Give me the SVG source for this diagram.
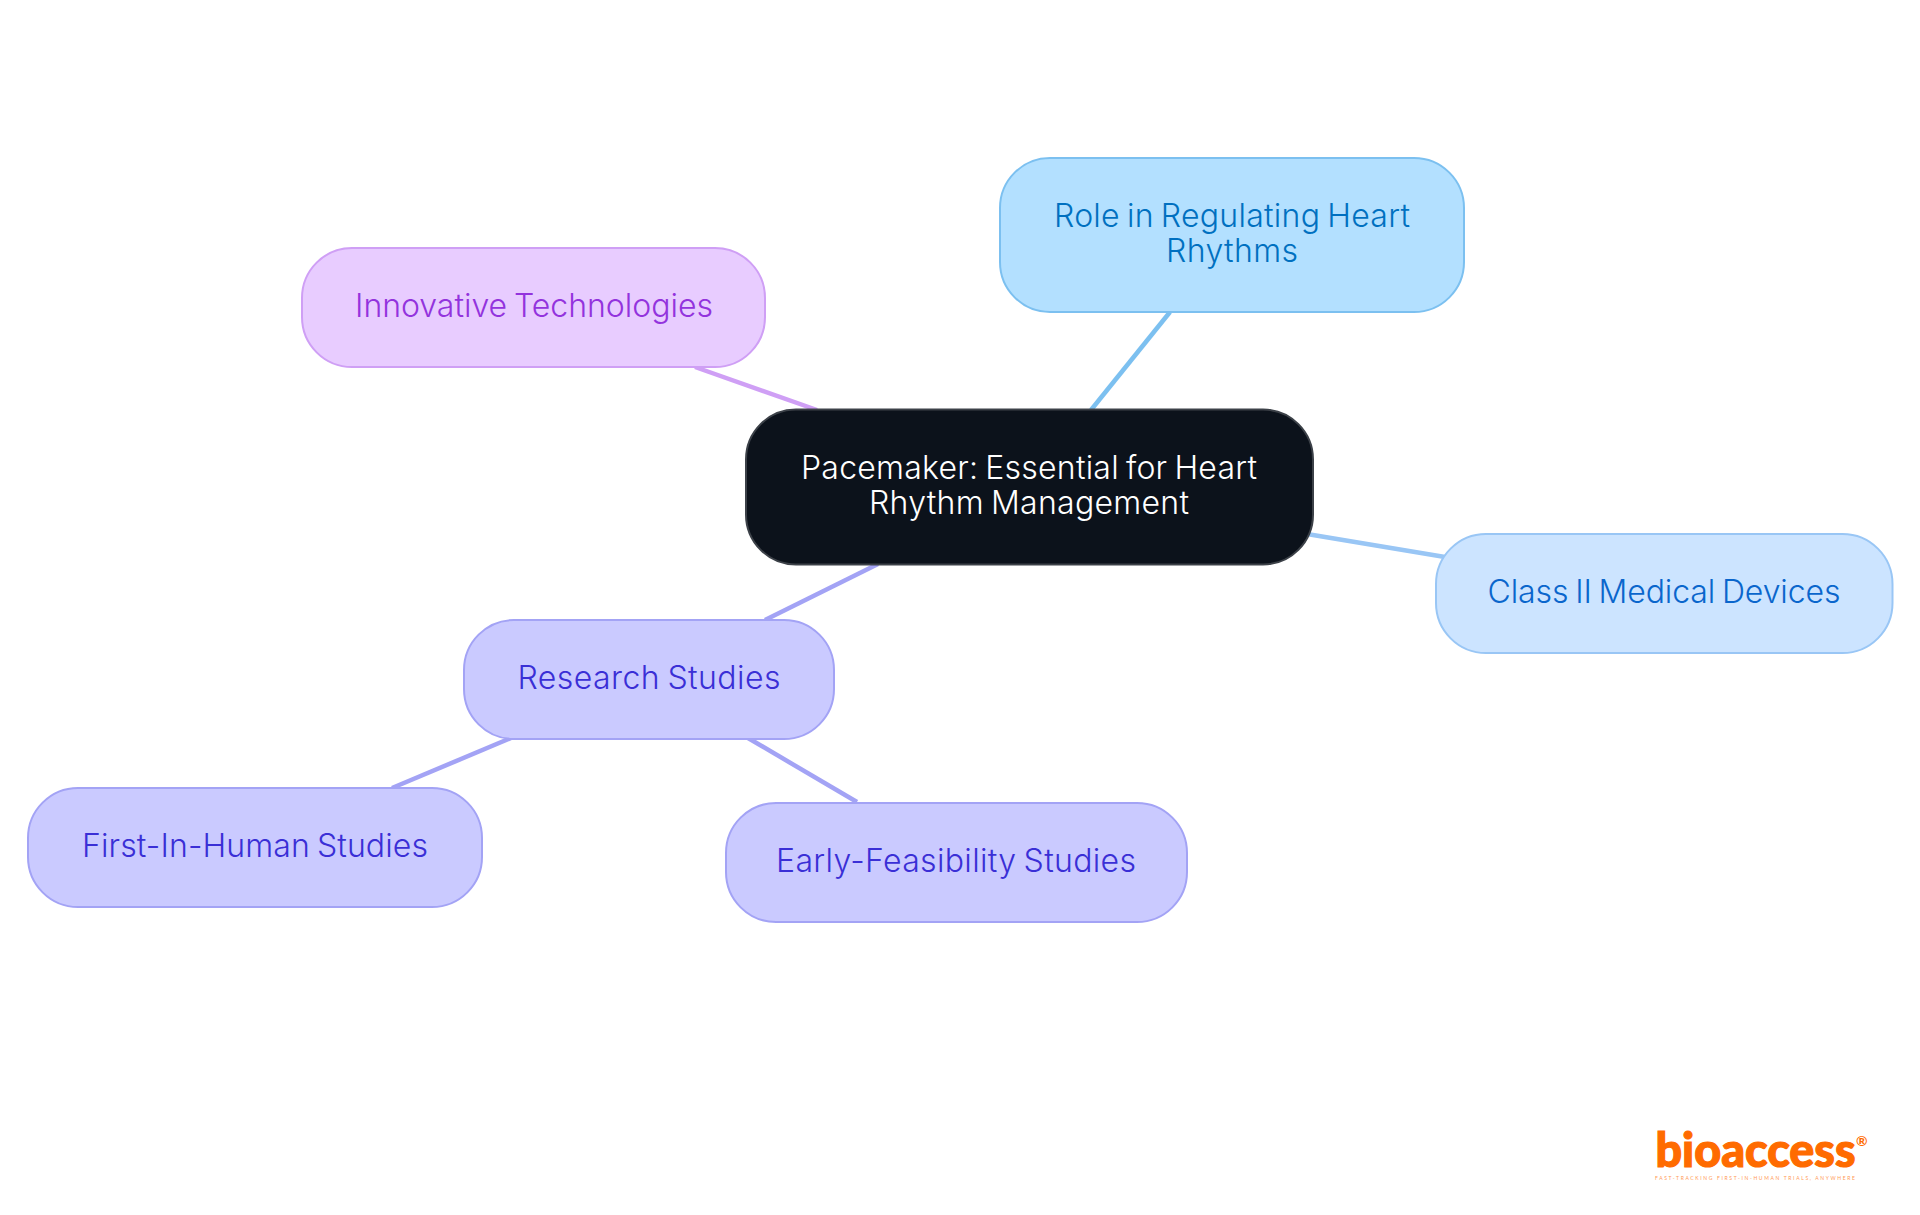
<svg xmlns="http://www.w3.org/2000/svg" width="1920" height="1215" viewBox="0 0 1920 1215">
<style>
text{font-family:"Inter","Noto Sans","Liberation Sans",sans-serif;font-size:32px;font-weight:300;text-anchor:middle;word-spacing:-2.2px}
.edge{fill:none;stroke-width:4.5}
.n{stroke-width:2}
.root rect{fill:#0c121b;stroke:#3c4148}.root text{fill:#fff}
.a rect{fill:#b3e0ff;stroke:#7cc0f0}.a text{fill:#0070c0}
.b rect{fill:#cce4ff;stroke:#99c6f5}.b text{fill:#0a66cc}
.c rect{fill:#e8ccff;stroke:#cf9ff5}.c text{fill:#9333dd}
.d rect{fill:#cacaff;stroke:#a3a3f5}.d text{fill:#3a2fd6}
.logo text{font-family:"Lato","Inter",sans-serif;text-anchor:start;word-spacing:0}
</style>
<rect width="1920" height="1215" fill="#fff"/>
<g id="connectors">
<path class="edge" stroke="#cf9ff5" d="M695 367L817 410"/>
<path class="edge" stroke="#7cc0f0" d="M1170 312L1091 410"/>
<path class="edge" stroke="#99c6f5" d="M1307 534L1445 557"/>
<path class="edge" stroke="#a3a3f5" d="M878 564L765 620"/>
<path class="edge" stroke="#a3a3f5" d="M511 738L392 788"/>
<path class="edge" stroke="#a3a3f5" d="M748 738L857 802"/>
</g>
<g id="root" class="root"><rect class="n" x="746" y="409.500" width="567" height="155" rx="50"/><text x="1029" y="478.500" textLength="456">Pacemaker: Essential for Heart</text><text x="1029" y="513.500" textLength="320">Rhythm Management</text></g>
<g id="role" class="a"><rect class="n" x="1000" y="158" width="464" height="154" rx="50"/><text x="1232" y="227" textLength="356">Role in Regulating Heart</text><text x="1232" y="262" textLength="132">Rhythms</text></g>
<g id="class2" class="b"><rect class="n" x="1436" y="534" width="456.500" height="119" rx="50"/><text x="1664" y="603" textLength="353">Class II Medical Devices</text></g>
<g id="innovative" class="c"><rect class="n" x="302" y="248" width="463" height="119" rx="50"/><text x="534" y="317" textLength="358">Innovative Technologies</text></g>
<g id="research" class="d"><rect class="n" x="464" y="620" width="370" height="119" rx="50"/><text x="649" y="689" textLength="263">Research Studies</text></g>
<g id="first" class="d"><rect class="n" x="28" y="788" width="454" height="119" rx="50"/><text x="255" y="857" textLength="346">First-In-Human Studies</text></g>
<g id="early" class="d"><rect class="n" x="726" y="803" width="461" height="119" rx="50"/><text x="956" y="872" textLength="360">Early-Feasibility Studies</text></g>
<g id="logo" class="logo">
<text x="1655.500" y="1167" textLength="200" lengthAdjust="spacingAndGlyphs" style="font-size:47px;font-weight:900;fill:#ff6b00;stroke:#ff6b00;stroke-width:1.2px">bioaccess</text>
<text x="1856" y="1146" style="font-size:14px;font-weight:700;fill:#ff6b00">®</text>
<text x="1655" y="1179.500" textLength="200" style="font-size:5px;font-weight:400;fill:#ff9a55">FAST-TRACKING FIRST-IN-HUMAN TRIALS, ANYWHERE</text>
</g>
</svg>
